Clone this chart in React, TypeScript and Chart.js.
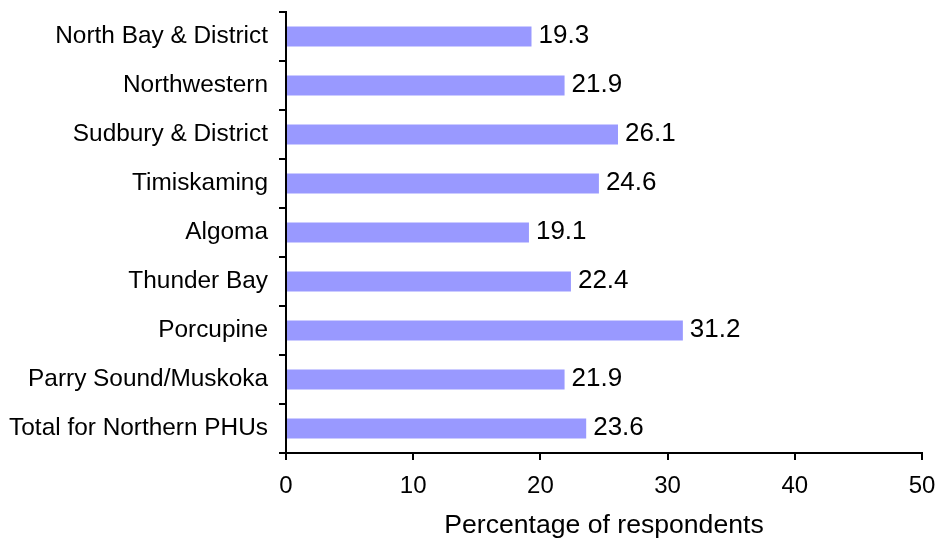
import { useEffect, useRef } from "react";
import { Chart, registerables } from "chart.js";

Chart.register(...registerables);

// Public health unit regions, top to bottom
const regions = [
  "North Bay & District",
  "Northwestern",
  "Sudbury & District",
  "Timiskaming",
  "Algoma",
  "Thunder Bay",
  "Porcupine",
  "Parry Sound/Muskoka",
  "Total for Northern PHUs",
];

// Percentage of respondents per region
const percentages = [19.3, 21.9, 26.1, 24.6, 19.1, 22.4, 31.2, 21.9, 23.6];

// Horizontal axis range and step
const xMin = 0;
const xMax = 50;
const xStep = 10;

const axisTitle = "Percentage of respondents";

const FONT = '"Liberation Sans", Arial, Helvetica, sans-serif';

// Writes each bar's value just past its end
const valueLabels = {
  id: "valueLabels",
  afterDatasetsDraw(chart: any) {
    const ctx = chart.ctx;
    const meta = chart.getDatasetMeta(0);
    const values = chart.data.datasets[0].data as number[];
    ctx.save();
    ctx.font = `26px ${FONT}`;
    ctx.fillStyle = "#000";
    ctx.textAlign = "left";
    ctx.textBaseline = "middle";
    meta.data.forEach((bar: any, i: number) => {
      ctx.fillText(values[i].toFixed(1), bar.x + 7, bar.y - 1);
    });
    ctx.restore();
  },
};

export default function App() {
  const canvasRef = useRef<HTMLCanvasElement | null>(null);

  useEffect(() => {
    if (!canvasRef.current) return;
    const chart = new Chart(canvasRef.current, {
      type: "bar",
      data: {
        labels: regions,
        datasets: [
          {
            data: percentages,
            backgroundColor: "#9999FF",
            borderWidth: 0,
            categoryPercentage: 1,
            barPercentage: 20 / 49,
          },
        ],
      },
      options: {
        indexAxis: "y",
        responsive: false,
        maintainAspectRatio: false,
        animation: false,
        layout: { padding: { top: 12, right: 16, bottom: 0, left: 0 } },
        plugins: {
          legend: { display: false },
          tooltip: { enabled: false },
          title: { display: false },
        },
        scales: {
          x: {
            min: xMin,
            max: xMax,
            afterFit(scale: any) {
              scale.height = 91;
              scale.paddingLeft = 0;
              scale.paddingRight = 0;
            },
            ticks: {
              stepSize: xStep,
              color: "#000",
              font: { family: FONT, size: 24 },
              padding: 12,
              maxRotation: 0,
            },
            grid: {
              display: true,
              drawOnChartArea: false,
              drawTicks: true,
              tickLength: 7,
              color: "#000",
              lineWidth: 2,
            },
            border: { display: true, color: "#000", width: 2 },
            title: {
              display: true,
              text: axisTitle,
              color: "#000",
              font: { family: FONT, size: 26.6 },
              padding: { top: 0, bottom: 2 },
            },
          },
          y: {
            afterFit(scale: any) {
              scale.width = 286;
              scale.paddingTop = 0;
              scale.paddingBottom = 0;
            },
            ticks: {
              color: "#000",
              font: { family: FONT, size: 24.4 },
              padding: 11,
            },
            grid: {
              display: true,
              offset: true,
              drawOnChartArea: false,
              drawTicks: true,
              tickLength: 7,
              color: "#000",
              lineWidth: 2,
            },
            border: { display: true, color: "#000", width: 2 },
          },
        },
      },
      plugins: [valueLabels],
    });
    return () => chart.destroy();
  }, []);

  return (
    <div style={{ position: "absolute", left: 0, top: 0, width: 938, height: 544, background: "#fff" }}>
      <canvas ref={canvasRef} width={938} height={544} />
    </div>
  );
}
